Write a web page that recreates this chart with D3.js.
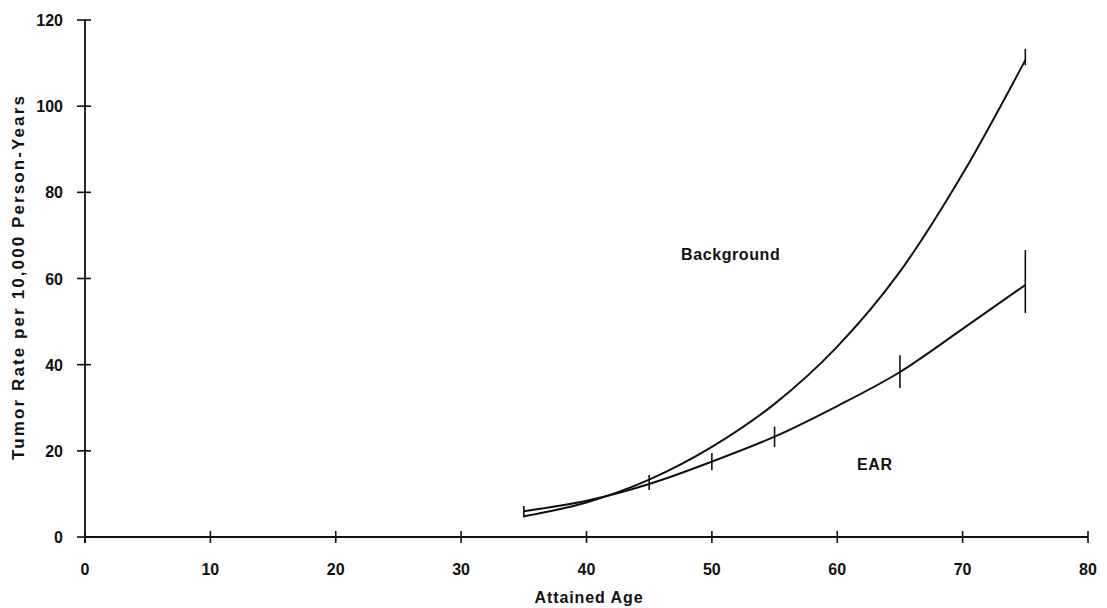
<!DOCTYPE html>
<html>
<head>
<meta charset="utf-8">
<script src="https://cdn.jsdelivr.net/npm/d3@7"></script>
<style>
  html, body { margin: 0; padding: 0; background: #fff; }
  svg { display: block; }
  text { font-family: "Liberation Sans", Arial, Helvetica, sans-serif; fill: #111; }
</style>
</head>
<body>
<svg id="chart" width="1107" height="608"></svg>
<script>
// ---- data ----
const ages = [35, 40, 45, 50, 55, 60, 65, 70, 75];
const backgroundRate = [4.8, 8.0, 13.3, 20.9, 30.9, 44.2, 61.6, 84.3, 110.7];
const earRate = [6.0, 8.4, 12.3, 17.5, 23.3, 30.4, 38.3, 48.3, 58.5];
const earErrAges = [35, 45, 50, 55, 65, 75];
const earErrLow = [4.5, 10.9, 15.5, 20.9, 34.6, 52.0];
const earErrHigh = [7.2, 14.4, 19.5, 25.6, 42.2, 66.6];
const bgErrAges = [75];
const bgErrLow = [109.5];
const bgErrHigh = [113.3];
const xTicks = [0, 10, 20, 30, 40, 50, 60, 70, 80];
const yTicks = [0, 20, 40, 60, 80, 100, 120];
const seriesLabels = [
  { text: "Background", age: 51.5, value: 64.3 },
  { text: "EAR", age: 63.0, value: 15.5 }
];

// ---- chart ----
const svg = d3.select("#chart");
const x = d3.scaleLinear().domain([0, 80]).range([85, 1088]);
const y = d3.scaleLinear().domain([0, 120]).range([537, 20]);

const ink = "#111";

// axes lines
svg.append("line").attr("x1", x(0)).attr("x2", x(80)).attr("y1", y(0)).attr("y2", y(0))
  .attr("stroke", ink).attr("stroke-width", 1.8);
svg.append("line").attr("x1", x(0)).attr("x2", x(0)).attr("y1", y(0) + 6).attr("y2", y(120))
  .attr("stroke", ink).attr("stroke-width", 1.8);

// x ticks
const xt = svg.append("g");
xt.selectAll("line").data(xTicks).join("line")
  .attr("x1", d => x(d)).attr("x2", d => x(d))
  .attr("y1", y(0) - 6).attr("y2", y(0) + 6)
  .attr("stroke", ink).attr("stroke-width", 1.6);
xt.selectAll("text").data(xTicks).join("text")
  .attr("x", d => x(d)).attr("y", 575)
  .attr("text-anchor", "middle")
  .attr("font-size", 16).attr("font-weight", "bold")
  .text(d => d);

// y ticks
const yt = svg.append("g");
yt.selectAll("line").data(yTicks).join("line")
  .attr("x1", x(0) - 8).attr("x2", x(0) + 6)
  .attr("y1", d => y(d)).attr("y2", d => y(d))
  .attr("stroke", ink).attr("stroke-width", 1.6);
yt.selectAll("text").data(yTicks).join("text")
  .attr("x", 63).attr("y", d => y(d) + 6)
  .attr("text-anchor", "end")
  .attr("font-size", 16).attr("font-weight", "bold")
  .text(d => d);

// axis titles
svg.append("text").attr("x", 589).attr("y", 603).attr("text-anchor", "middle")
  .attr("font-size", 16).attr("font-weight", "bold").attr("letter-spacing", 0.9)
  .text("Attained Age");
svg.append("text")
  .attr("transform", "translate(24,277) rotate(-90)")
  .attr("text-anchor", "middle")
  .attr("font-size", 17).attr("font-weight", "bold").attr("letter-spacing", 2.1)
  .text("Tumor Rate per 10,000 Person-Years");

// lines
const line = d3.line().x(d => x(d[0])).y(d => y(d[1])).curve(d3.curveMonotoneX);
svg.append("path").datum(ages.map((a, i) => [a, backgroundRate[i]]))
  .attr("d", line).attr("fill", "none").attr("stroke", ink).attr("stroke-width", 2);
svg.append("path").datum(ages.map((a, i) => [a, earRate[i]]))
  .attr("d", line).attr("fill", "none").attr("stroke", ink).attr("stroke-width", 2);

// error bars
function errBars(agesArr, lo, hi) {
  svg.append("g").selectAll("line").data(agesArr).join("line")
    .attr("x1", d => x(d)).attr("x2", d => x(d))
    .attr("y1", (d, i) => y(lo[i])).attr("y2", (d, i) => y(hi[i]))
    .attr("stroke", ink).attr("stroke-width", 1.6);
}
errBars(earErrAges, earErrLow, earErrHigh);
errBars(bgErrAges, bgErrLow, bgErrHigh);

// series labels
svg.append("g").selectAll("text").data(seriesLabels).join("text")
  .attr("x", d => x(d.age)).attr("y", d => y(d.value))
  .attr("text-anchor", "middle")
  .attr("font-size", 16).attr("font-weight", "bold").attr("letter-spacing", 0.6)
  .text(d => d.text);
</script>
</body>
</html>
